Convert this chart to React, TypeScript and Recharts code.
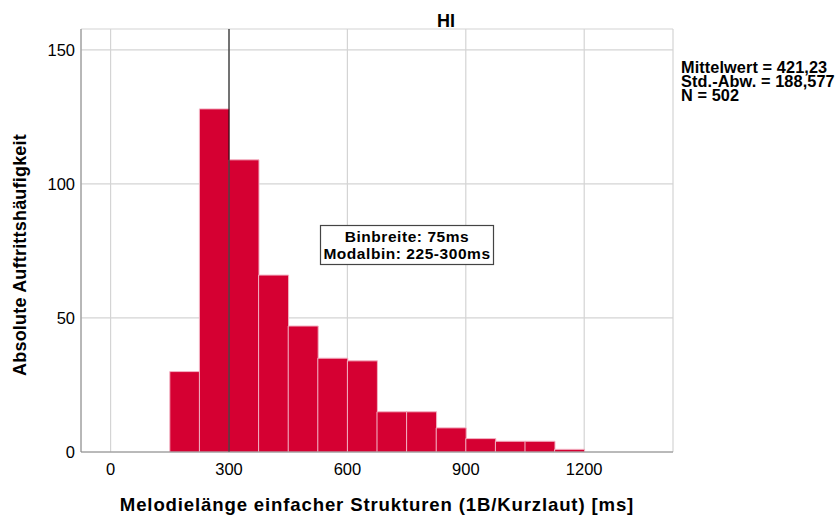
import React from 'react';
import { ComposedChart, Bar, XAxis, YAxis, CartesianGrid, ReferenceLine } from 'recharts';

const binStarts = [150, 225, 300, 375, 450, 525, 600, 675, 750, 825, 900, 975, 1050, 1125];
const binCounts = [30, 128, 109, 66, 47, 35, 34, 15, 15, 9, 5, 4, 4, 1];
const binWidth = 75;
const xTicks = [0, 300, 600, 900, 1200];
const yTicks = [0, 50, 100, 150];
const refLineX = 300;
const chartTitle = 'HI';
const xTitle = 'Melodielänge einfacher Strukturen (1B/Kurzlaut) [ms]';
const yTitle = 'Absolute Auftrittshäufigkeit';
const statLines = ['Mittelwert = 421,23', 'Std.-Abw. = 188,577', 'N = 502'];
const annotationLines = ['Binbreite: 75ms', 'Modalbin: 225-300ms'];

const data = binStarts.map((s, i) => ({ mid: s + binWidth / 2, count: binCounts[i] }));

const FONT = '"Liberation Sans", Arial, sans-serif';

export default function App() {
  return (
    <div style={{ position: 'absolute', left: 0, top: 0, width: 838, height: 515, fontFamily: FONT, background: '#fff' }}>
      <ComposedChart
        width={838}
        height={515}
        data={data}
        margin={{ top: 29, right: 165, left: 0, bottom: 0 }}
        barCategoryGap={0}
        barGap={0}
      >
        <CartesianGrid stroke="#d4d4d4" strokeWidth={1.2} vertical horizontal />
        <XAxis
          type="number"
          dataKey="mid"
          domain={[-75, 1425]}
          ticks={xTicks}
          allowDataOverflow
          height={63}
          tickSize={0}
          tickMargin={11}
          stroke="#8a8a8a"
          tick={{ fill: '#000', fontSize: 16.5, fontFamily: FONT }}
        />
        <YAxis
          type="number"
          domain={[0, 157.8]}
          ticks={yTicks}
          allowDataOverflow
          width={81}
          tickSize={0}
          tickMargin={6}
          stroke="#8a8a8a"
          tick={{ fill: '#000', fontSize: 16.5, fontFamily: FONT }}
        />
        <Bar dataKey="count" fill="#d50032" stroke="#f3b3c4" strokeWidth={1} isAnimationActive={false} />
        <ReferenceLine x={refLineX} stroke="#000" strokeWidth={1} />
      </ComposedChart>
      <svg width={838} height={515} style={{ position: 'absolute', left: 0, top: 0, pointerEvents: 'none' }} fontFamily={FONT}>
        <text x={446} y={27} textAnchor="middle" fontSize={18} fontWeight="bold" fill="#000">{chartTitle}</text>
        <text x={377} y={511} textAnchor="middle" fontSize={18.6} fontWeight="bold" fill="#000" letterSpacing={0.85}>{xTitle}</text>
        <text transform="translate(26,255) rotate(-90)" textAnchor="middle" fontSize={18} fontWeight="bold" fill="#000" letterSpacing={0.2}>{yTitle}</text>
        {statLines.map((t, i) => (
          <text key={t} x={681} y={72.5 + i * 14} fontSize={16.3} fontWeight="bold" fill="#000" letterSpacing={0.1}>{t}</text>
        ))}
        <rect x={320.5} y={225.5} width={173} height={39} fill="#fff" stroke="#444" strokeWidth={1.2} />
        {annotationLines.map((t, i) => (
          <text key={t} x={407} y={242 + i * 16.5} textAnchor="middle" fontSize={15.5} fontWeight="bold" fill="#000" letterSpacing={0.55}>{t}</text>
        ))}
      </svg>
    </div>
  );
}
